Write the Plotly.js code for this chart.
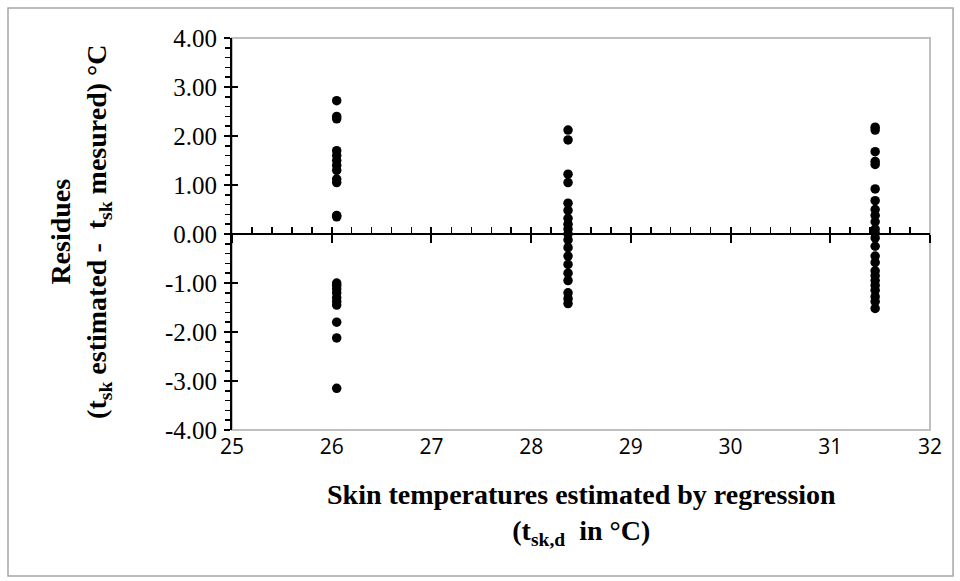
<!DOCTYPE html>
<html>
<head>
<meta charset="utf-8">
<script src="https://cdn.plot.ly/plotly-3.0.1.min.js"></script>
<style>html,body{margin:0;padding:0;background:#fff;}#chart{width:960px;height:581px;}</style>
</head>
<body>
<div id="chart"></div>
<script>
// Data
const xGroup1 = 26.05;
const resid1 = [2.72, 2.40, 2.35, 1.70, 1.60, 1.50, 1.40, 1.30, 1.12, 1.05, 0.38, 0.35,
                -1.00, -1.05, -1.12, -1.20, -1.30, -1.38, -1.45, -1.80, -2.12, -3.15];
const xGroup2 = 28.37;
const resid2 = [2.12, 1.92, 1.22, 1.05, 0.63, 0.48, 0.32, 0.20, 0.10, 0.00,
                -0.12, -0.28, -0.45, -0.62, -0.80, -0.95, -1.20, -1.32, -1.42];
const xGroup3 = 31.45;
const resid3 = [2.18, 2.12, 1.68, 1.48, 1.42, 0.92, 0.68, 0.50, 0.38, 0.25, 0.10, 0.02,
                -0.08, -0.25, -0.45, -0.58, -0.75, -0.85, -0.95, -1.05, -1.15, -1.28, -1.38, -1.52];
const xTicks = [25, 26, 27, 28, 29, 30, 31, 32];
const xTickLabels = ['25', '26', '27', '28', '29', '30', '31', '32'];
const yTicks = [-4, -3, -2, -1, 0, 1, 2, 3, 4];
const yTickLabels = ['-4.00', '-3.00', '-2.00', '-1.00', '0.00', '1.00', '2.00', '3.00', '4.00'];
const xTitle = '<b>Skin temperatures estimated by regression</b><br><b>(t<sub>sk,d</sub>  in °C)</b>';
const yTitle = '<b>Residues</b><br><b>(t<sub>sk</sub> estimated -  t<sub>sk</sub> mesured) °C</b>';

const xs = [], ys = [];
[[xGroup1, resid1], [xGroup2, resid2], [xGroup3, resid3]].forEach(([gx, arr]) => {
  arr.forEach(v => { xs.push(gx); ys.push(v); });
});

const trace = {
  x: xs, y: ys, type: 'scatter', mode: 'markers',
  marker: {color: '#000', size: 9.5},
  xaxis: 'x', yaxis: 'y', hoverinfo: 'skip', showlegend: false
};

const serif = 'Liberation Serif, Times New Roman, serif';
const sans = 'Open Sans, Liberation Sans, sans-serif';

const layout = {
  width: 960, height: 581,
  margin: {l: 232, r: 30, t: 38, b: 151},
  paper_bgcolor: '#fff', plot_bgcolor: '#fff',
  showlegend: false,
  xaxis: {
    range: [25, 32], tickvals: xTicks, ticktext: xTickLabels,
    showgrid: false, zeroline: false, showline: false, ticks: '',
    tickfont: {family: sans, size: 21, color: '#000'},
    ticklabelstandoff: 2,
    fixedrange: true
  },
  xaxis2: {
    range: [25, 32], overlaying: 'x', anchor: 'free', position: 0.5, side: 'bottom',
    showgrid: false, zeroline: false, showline: true, linecolor: '#000', linewidth: 2,
    tickvals: xTicks, showticklabels: false,
    ticks: 'inside', ticklen: 6, tickwidth: 2, tickcolor: '#000',
    minor: {ticks: 'inside', ticklen: 6, tickwidth: 1.5, tickcolor: '#000', dtick: 0.2, tick0: 25, showgrid: false}
  },
  xaxis3: {
    range: [25, 32], overlaying: 'x', anchor: 'free', position: 0.5, side: 'bottom',
    showgrid: false, zeroline: false, showline: false,
    tickvals: xTicks, showticklabels: false,
    ticks: 'outside', ticklen: 8, tickwidth: 2, tickcolor: '#000'
  },
  yaxis: {
    range: [-4, 4], tickvals: yTicks, ticktext: yTickLabels,
    showgrid: false, zeroline: false, showline: true, linecolor: '#000', linewidth: 2,
    ticks: 'outside', ticklen: 6, tickwidth: 2, tickcolor: '#000',
    minor: {ticks: 'outside', ticklen: 5, tickwidth: 1.5, tickcolor: '#000', dtick: 0.2, tick0: -4, showgrid: false},
    tickfont: {family: serif, size: 25, color: '#000'},
    ticklabelstandoff: 2,
    fixedrange: true
  },
  yaxis2: {
    range: [-4, 4], overlaying: 'y', anchor: 'x', side: 'left',
    showgrid: false, zeroline: false, showline: false,
    tickvals: yTicks, showticklabels: false,
    ticks: 'inside', ticklen: 6, tickwidth: 2, tickcolor: '#000'
  },
  annotations: [
    {text: xTitle, xref: 'paper', yref: 'paper', x: 0.5, y: -0.2168,
     xanchor: 'center', yanchor: 'middle', showarrow: false, align: 'center',
     font: {family: serif, size: 28, color: '#000'}},
    {text: yTitle, xref: 'paper', yref: 'paper', x: -0.218, y: 0.505, textangle: -90,
     xanchor: 'center', yanchor: 'middle', showarrow: false, align: 'center',
     font: {family: serif, size: 28, color: '#000'}}
  ],
  shapes: [
    {type: 'rect', xref: 'paper', yref: 'paper', x0: 0, x1: 1, y0: 0, y1: 1,
     line: {color: '#bfbfbf', width: 2}, layer: 'below'},
    {type: 'rect', xref: 'paper', yref: 'paper', x0: -0.3209, x1: 1.0330, y0: -0.3724, y1: 1.0765,
     line: {color: '#a6a6a6', width: 1.5}, layer: 'below'}
  ]
};

const dummy2 = {x: [25], y: [0], xaxis: 'x2', yaxis: 'y', mode: 'markers', marker: {opacity: 0}, hoverinfo: 'skip', showlegend: false};
const dummy3 = {x: [25], y: [0], xaxis: 'x3', yaxis: 'y', mode: 'markers', marker: {opacity: 0}, hoverinfo: 'skip', showlegend: false};
const dummy4 = {x: [25], y: [0], xaxis: 'x', yaxis: 'y2', mode: 'markers', marker: {opacity: 0}, hoverinfo: 'skip', showlegend: false};

Plotly.newPlot('chart', [dummy2, dummy3, dummy4, trace], layout, {displayModeBar: false, staticPlot: true});
</script>
</body>
</html>
